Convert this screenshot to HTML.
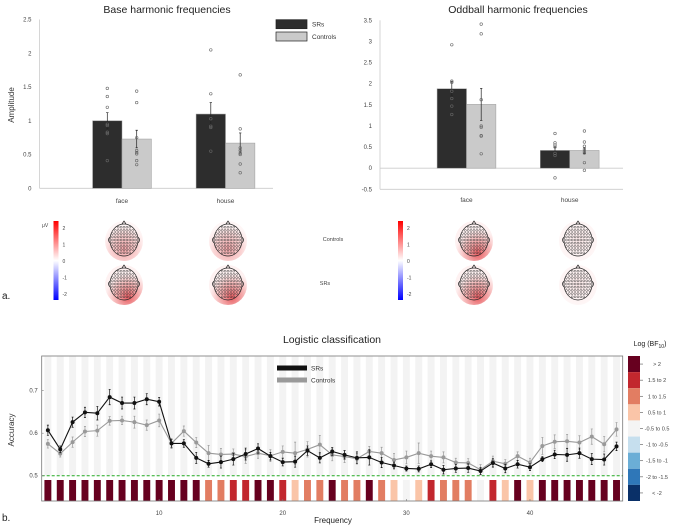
<!DOCTYPE html>
<html><head><meta charset="utf-8"><style>
html,body{margin:0;padding:0;background:#fff}
svg{display:block;font-family:"Liberation Sans",sans-serif}
</style></head><body>
<svg id="fig" width="678" height="528" viewBox="0 0 678 528">
<defs>
<radialGradient id="glowA" cx="50%" cy="70%" r="60%"><stop offset="0" stop-color="#ec7a7e" stop-opacity="0.7"/><stop offset="0.6" stop-color="#f6b0b0" stop-opacity="0.55"/><stop offset="1" stop-color="#fde0e0" stop-opacity="0.3"/></radialGradient>
<radialGradient id="glowB" cx="60%" cy="80%" r="60%"><stop offset="0" stop-color="#e23a40" stop-opacity="0.85"/><stop offset="0.6" stop-color="#f29090" stop-opacity="0.6"/><stop offset="1" stop-color="#fcd8d8" stop-opacity="0.35"/></radialGradient>
<radialGradient id="glowC" cx="50%" cy="50%" r="60%"><stop offset="0" stop-color="#f8d0d0" stop-opacity="0.5"/><stop offset="1" stop-color="#fde8e8" stop-opacity="0.3"/></radialGradient>
<linearGradient id="uv" x1="0" y1="0" x2="0" y2="1"><stop offset="0" stop-color="#ff0000"/><stop offset="0.5" stop-color="#ffffff"/><stop offset="1" stop-color="#0000ff"/></linearGradient>
</defs>
<g id="top"></g>
<g id="topo"></g>
<g id="bottom"></g>
</svg>
<script>
// ---- top bar charts data ----
const barCats = ["face","house"];
const baseSR = [1.0, 1.1];
const baseSRse = [0.12, 0.17];
const baseCtrl = [0.73, 0.67];
const baseCtrlse = [0.13, 0.15];
const baseSRdots = [[1.48,1.36,1.2,0.95,0.93,0.83,0.81,0.41],[2.05,1.4,1.03,0.92,0.9,0.55]];
const baseCtrlDots = [[1.44,1.27,0.75,0.56,0.53,0.51,0.41,0.35],[1.68,0.88,0.6,0.56,0.52,0.5,0.36,0.23]];
const baseTicks = [0,0.5,1,1.5,2,2.5];
const oddSR = [1.88, 0.42];
const oddSRse = [0.17, 0.08];
const oddCtrl = [1.51, 0.42];
const oddCtrlse = [0.38, 0.07];
const oddSRdots = [[2.92,2.06,2.03,1.82,1.65,1.47,1.27],[0.82,0.6,0.55,0.5,0.35,0.3,-0.23]];
const oddCtrlDots = [[3.41,3.18,1.62,1.0,0.97,0.77,0.76,0.34],[0.88,0.62,0.52,0.45,0.4,0.36,0.13,-0.05]];
const oddTicks = [-0.5,0,0.5,1,1.5,2,2.5,3,3.5];
// ---- logistic classification data ----
const freqs = [1,2,3,4,5,6,7,8,9,10,11,12,13,14,15,16,17,18,19,20,21,22,23,24,25,26,27,28,29,30,31,32,33,34,35,36,37,38,39,40,41,42,43,44,45,46,47];
const accSR = [0.607,0.562,0.626,0.649,0.647,0.685,0.671,0.671,0.680,0.674,0.576,0.576,0.542,0.528,0.532,0.539,0.551,0.564,0.546,0.532,0.533,0.559,0.542,0.557,0.549,0.542,0.543,0.531,0.524,0.517,0.516,0.527,0.514,0.517,0.518,0.511,0.530,0.517,0.527,0.520,0.539,0.550,0.549,0.553,0.539,0.538,0.569];
const accCtrl = [0.575,0.552,0.579,0.604,0.606,0.629,0.630,0.626,0.619,0.630,0.576,0.605,0.578,0.553,0.550,0.551,0.545,0.553,0.547,0.556,0.553,0.562,0.573,0.549,0.545,0.540,0.557,0.553,0.537,0.543,0.553,0.546,0.543,0.531,0.530,0.514,0.534,0.528,0.546,0.531,0.570,0.580,0.581,0.578,0.592,0.574,0.609];
const seSR = [0.012,0.008,0.012,0.012,0.016,0.018,0.014,0.014,0.013,0.010,0.009,0.009,0.013,0.008,0.014,0.014,0.014,0.011,0.009,0.009,0.013,0.011,0.012,0.009,0.010,0.014,0.018,0.012,0.008,0.006,0.007,0.008,0.010,0.009,0.010,0.008,0.010,0.010,0.009,0.008,0.006,0.010,0.015,0.012,0.013,0.013,0.010];
const seCtrl = [0.010,0.008,0.012,0.012,0.013,0.010,0.010,0.014,0.012,0.015,0.012,0.012,0.012,0.018,0.014,0.012,0.016,0.012,0.014,0.014,0.026,0.018,0.022,0.014,0.014,0.012,0.012,0.014,0.015,0.015,0.024,0.012,0.013,0.010,0.010,0.012,0.012,0.010,0.010,0.010,0.020,0.016,0.016,0.016,0.018,0.018,0.016];
const bfCat = [0,0,0,0,0,0,0,0,0,0,0,0,0,2,2,1,1,0,0,1,3,2,2,0,2,2,0,2,3,4,3,1,2,2,2,4,1,3,0,3,0,0,0,0,0,0,0];
const accTicks = [0.5,0.6,0.7];
const freqTicks = [10,20,30,40];
const bfLabels = ["> 2","1.5 to 2","1 to 1.5","0.5 to 1","-0.5 to 0.5","-1 to -0.5","-1.5 to -1","-2 to -1.5","< -2"];
const bfColors = ["#67001f","#c2272e","#e27d62","#fac5a8","#f4f4f4","#c6dfee","#6baed6","#2f77b8","#0a3068"];
const uvTicks = [2,1,0,-1,-2];

const NS="http://www.w3.org/2000/svg";
function mk(parent,tag,attrs,text){const e=document.createElementNS(NS,tag);for(const k in attrs)e.setAttribute(k,attrs[k]);if(text!==undefined)e.textContent=text;parent.appendChild(e);return e;}

function barChart(g,o){
  const y=v=>o.y0-(v-o.ymin)*o.ppu;
  const yTop=y(o.ymax), yBot=y(o.ymin);
  const ax=mk(g,'line',{x1:o.axX,y1:yTop,x2:o.axX,y2:yBot,stroke:'#ccc','stroke-width':0.8});
  
  const bx=mk(g,'line',{x1:o.axX,y1:y(0),x2:o.xEnd,y2:y(0),stroke:'#ccc','stroke-width':0.8});
  
  if(o.ymin<0){const bb=mk(g,'line',{x1:o.axX,y1:yBot,x2:o.xEnd,y2:yBot,stroke:'#ccc','stroke-width':0.8});
    }
  o.ticks.forEach(t=>{const tl=mk(g,'text',{x:o.axX-8,y:y(t)+2,'font-size':6,'text-anchor':'end',fill:'#444'},String(t));
    });
  const bw=29.4;
  barCats.forEach((c,i)=>{
    const cx=o.cx[i];
    const xl=mk(g,'text',{x:cx,y:o.labY,'font-size':6.5,'text-anchor':'middle',fill:'#444'},c);
    
    [[o.sr,o.srse,o.srd,'#2d2d2d',cx-bw,'sr'],[o.ct,o.ctse,o.ctd,'#cacaca',cx,'ctrl']].forEach(s=>{
      const v=s[0][i],top=Math.min(y(v),y(0)),h=Math.abs(y(v)-y(0));
      const r=mk(g,'rect',{x:s[4],y:top,width:bw,height:h,fill:s[3],stroke:'#999','stroke-width':0.5});
      
      const mx=s[4]+bw/2;
      const eb=mk(g,'path',{d:`M${mx} ${y(v-s[1][i])}V${y(v+s[1][i])}M${mx-1.2} ${y(v-s[1][i])}h2.4M${mx-1.2} ${y(v+s[1][i])}h2.4`,stroke:'#222','stroke-width':0.7,fill:'none'});
      
      s[2][i].forEach(d=>{const p=mk(g,'circle',{cx:mx,cy:y(d),r:1.3,fill:'none',stroke:'#666','stroke-width':0.6});
        });
    });
  });
  const tt=mk(g,'text',{x:o.titleX,y:13,'font-size':10.5,'text-anchor':'middle',fill:'#222'},o.title);
  
}
const gTop=document.getElementById('top');
barChart(gTop,{name:'base-chart',title:'Base harmonic frequencies',titleX:167,axX:39.5,xEnd:273,y0:188.3,ymin:0,ymax:2.5,ppu:67.5,ticks:baseTicks,cx:[122,225.5],labY:203,sr:baseSR,srse:baseSRse,srd:baseSRdots,ct:baseCtrl,ctse:baseCtrlse,ctd:baseCtrlDots});
barChart(gTop,{name:'oddball-chart',title:'Oddball harmonic frequencies',titleX:518,axX:380,xEnd:623,y0:189.3,ymin:-0.5,ymax:3.5,ppu:42.25,ticks:oddTicks,cx:[466.5,569.7],labY:202,sr:oddSR,srse:oddSRse,srd:oddSRdots,ct:oddCtrl,ctse:oddCtrlse,ctd:oddCtrlDots});
let t=mk(gTop,'text',{x:14,y:105,'font-size':8,'text-anchor':'middle',fill:'#333',transform:'rotate(-90 14 105)'},'Amplitude');

[['SRs','#2d2d2d',19.7],['Controls','#cacaca',32]].forEach(l=>{
  const r=mk(gTop,'rect',{x:276,y:l[2],width:31,height:9,fill:l[1],stroke:'#222','stroke-width':0.7});
  
  const tx=mk(gTop,'text',{x:312,y:l[2]+7,'font-size':6.5,fill:'#333'},l[0]);
  
});

// ---- topomaps ----
const gT=document.getElementById('topo');
function head(cx,cy,grad,name){
  const g=mk(gT,'g',{});
  mk(g,'ellipse',{cx:cx,cy:cy+1,rx:19,ry:20,fill:'url(#'+grad+')'});
  mk(g,'ellipse',{cx:cx,cy:cy,rx:14,ry:16,fill:'none',stroke:'#222','stroke-width':0.7});
  mk(g,'path',{d:`M${cx-2} ${cy-16}L${cx} ${cy-19}L${cx+2} ${cy-16}M${cx-14} ${cy-3}q-3 3 0 6M${cx+14} ${cy-3}q3 3 0 6`,fill:'none',stroke:'#222','stroke-width':0.7});
  for(let r=-4;r<=4;r++){for(let c=-4;c<=4;c++){const x=cx+c*2.9,y=cy+r*3.2;
    if(((x-cx)/13)**2+((y-cy)/15)**2<1) mk(g,'circle',{cx:x,cy:y,r:1,fill:'none',stroke:'#333','stroke-width':0.45});}}
}
head(124,240,'glowA','topo-base-face-controls');head(228,240,'glowA','topo-base-house-controls');
head(124,284,'glowB','topo-base-face-srs');head(228,284,'glowB','topo-base-house-srs');
head(474,240,'glowB','topo-odd-face-controls');head(578,240,'glowC','topo-odd-house-controls');
head(474,284,'glowB','topo-odd-face-srs');head(578,284,'glowC','topo-odd-house-srs');
[[53.5,'left'],[398,'right']].forEach(cb=>{
  const r=mk(gT,'rect',{x:cb[0],y:221,width:5,height:79,fill:'url(#uv)'});
  
  uvTicks.forEach((v,i)=>{const tx=mk(gT,'text',{x:cb[0]+9,y:230+i*16.5,'font-size':5,fill:'#444'},String(v));
    });
});
t=mk(gT,'text',{x:42,y:227,'font-size':5,fill:'#444'},'μV');
t=mk(gT,'text',{x:333,y:241,'font-size':5.5,'text-anchor':'middle',fill:'#444'},'Controls');
t=mk(gT,'text',{x:325,y:285,'font-size':5.5,'text-anchor':'middle',fill:'#444'},'SRs');
t=mk(gT,'text',{x:2,y:299,'font-size':10,fill:'#222'},'a.');

// ---- logistic classification ----
const gB=document.getElementById('bottom');
const L=41.7,R=622.7,T=356,B=501;
const xs=f=>L+(f-0.5)*(R-L)/47;
const ys=v=>475.7-(v-0.5)*425;
const uw=(R-L)/47;
freqs.forEach(f=>{const r=mk(gB,'rect',{x:xs(f)-uw*0.28,y:T,width:uw*0.56,height:ys(0.5)-T,fill:'#f3f3f3'});
  });
freqs.forEach((f,i)=>{const r=mk(gB,'rect',{x:xs(f)-uw*0.28,y:480,width:uw*0.56,height:B-480,fill:bfColors[bfCat[i]]});
  });
t=mk(gB,'line',{x1:L,y1:ys(0.5),x2:R,y2:ys(0.5),stroke:'#22aa22','stroke-width':1,'stroke-dasharray':'3,2'});

t=mk(gB,'rect',{x:L,y:T,width:R-L,height:B-T,fill:'none',stroke:'#777','stroke-width':0.8});

[[accCtrl,seCtrl,'#999','controls'],[accSR,seSR,'#111','srs']].forEach(s=>{
  freqs.forEach((f,i)=>{const x=xs(f),v=s[0][i],e=s[1][i];
    const eb=mk(gB,'path',{d:`M${x} ${ys(v-e)}V${ys(v+e)}M${x-1} ${ys(v-e)}h2M${x-1} ${ys(v+e)}h2`,stroke:s[2],'stroke-width':0.7,fill:'none'});
    });
  const ln=mk(gB,'polyline',{points:freqs.map((f,i)=>xs(f)+','+ys(s[0][i])).join(' '),fill:'none',stroke:s[2],'stroke-width':1.1});
  
  freqs.forEach((f,i)=>{const p=mk(gB,'circle',{cx:xs(f),cy:ys(s[0][i]),r:2,fill:s[2]});
    });
});
accTicks.forEach(v=>{const tx=mk(gB,'text',{x:L-4,y:ys(v)+2,'font-size':6,'text-anchor':'end',fill:'#444'},v.toFixed(1));
  
  mk(gB,'line',{x1:L,y1:ys(v),x2:L+2,y2:ys(v),stroke:'#777','stroke-width':0.6});});
freqTicks.forEach(f=>{const tx=mk(gB,'text',{x:xs(f),y:B+14,'font-size':6,'text-anchor':'middle',fill:'#444'},String(f));
  
  mk(gB,'line',{x1:xs(f),y1:B,x2:xs(f),y2:B-2,stroke:'#777','stroke-width':0.6});});
t=mk(gB,'text',{x:332,y:343,'font-size':10.5,'text-anchor':'middle',fill:'#222'},'Logistic classification');
t=mk(gB,'text',{x:333,y:523,'font-size':8,'text-anchor':'middle',fill:'#222'},'Frequency');
t=mk(gB,'text',{x:14,y:430,'font-size':8,'text-anchor':'middle',fill:'#333',transform:'rotate(-90 14 430)'},'Accuracy');
t=mk(gB,'text',{x:2,y:521,'font-size':10,fill:'#222'},'b.');
[['SRs','#111',368],['Controls','#999',380]].forEach(l=>{
  const r=mk(gB,'rect',{x:277,y:l[2]-2.5,width:30,height:5,fill:l[1]});
  
  const tx=mk(gB,'text',{x:311,y:l[2]+2.5,'font-size':6.5,fill:'#333'},l[0]);
  
});
const ch=(B-T)/bfLabels.length;
bfLabels.forEach((lab,i)=>{
  const r=mk(gB,'rect',{x:628,y:T+i*ch,width:12,height:ch,fill:bfColors[i]});
  
  mk(gB,'line',{x1:640,y1:T+(i+0.5)*ch,x2:643,y2:T+(i+0.5)*ch,stroke:'#555','stroke-width':0.6});
  const tx=mk(gB,'text',{x:657,y:T+(i+0.5)*ch+2,'font-size':5.5,'text-anchor':'middle',fill:'#444'},lab);
  
});
t=mk(gB,'text',{x:650,y:346,'font-size':7,'text-anchor':'middle',fill:'#222'});
t.innerHTML='Log (BF<tspan font-size="5" dy="2">10</tspan><tspan dy="-2">)</tspan>';
</script>
</body></html>
